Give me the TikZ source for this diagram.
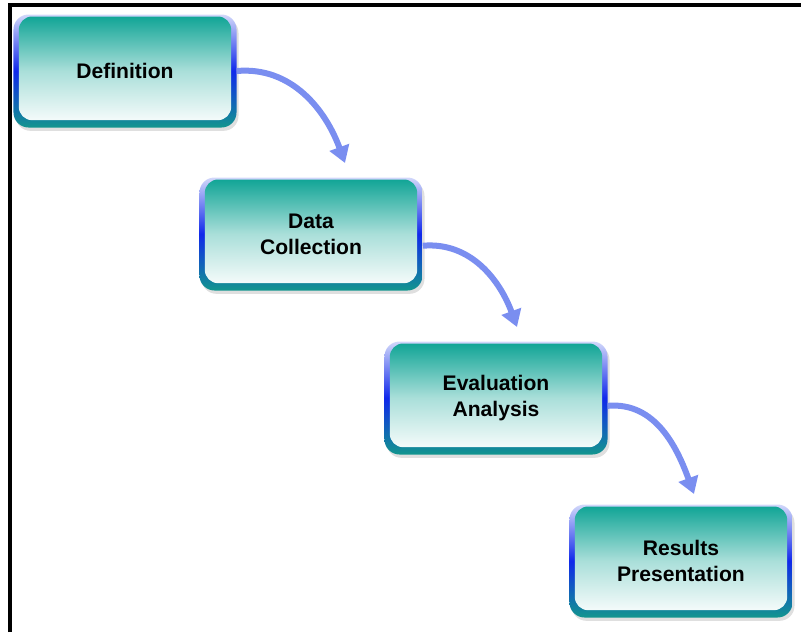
\documentclass[tikz,border=0pt]{standalone}
\usepackage{fontspec}
\setmainfont{Liberation Sans}
\usetikzlibrary{positioning,arrows.meta,shadows}
\definecolor{tealdark}{RGB}{18,150,142}
\definecolor{tealtop}{RGB}{12,163,148}
\definecolor{edgeblue}{RGB}{16,40,235}
\definecolor{edgelight}{RGB}{210,216,250}
\definecolor{flowblue}{RGB}{122,142,240}
\tikzset{
    stage/.style = {
        shape=rectangle,
        rounded corners=0.45cm,
        minimum width=6.69cm,
        minimum height=3.39cm,
        top color=edgelight,
        bottom color=tealdark,
        middle color=edgeblue,
        drop shadow={opacity=0.25, shadow xshift=0.06cm, shadow yshift=-0.1cm},
        path picture={
            \shade[top color=tealtop, bottom color=white, middle color=tealtop!35, rounded corners=0.4cm]
                ([shift={(0.16cm,-0.06cm)}]path picture bounding box.north west) rectangle
                ([shift={(-0.16cm,0.22cm)}]path picture bounding box.south east);
        },
        font=\fontsize{18}{22}\selectfont\bfseries,
        align=center,
        text=black
    },
    flow/.style = {
        draw=flowblue,
        line width=0.18cm,
        -{Triangle[width=0.6cm,length=0.5cm]}
    },
    frame/.style = {
        draw=black,
        line width=0.12cm
    },
}

\begin{document}
\begin{tikzpicture}[x=0.03cm, y=-0.03cm]
    \useasboundingbox (0,0) rectangle (801,632);
    \draw[frame] (10,632) -- (10,5) -- (801,5);

    \node[stage] (def) at (125,71) {Definition};
    \node[stage] (dat) at (311,234) {Data\\Collection};
    \node[stage] (eva) at (496,398) {Evaluation\\Analysis};
    \node[stage] (res) at (681,561) {Results\\Presentation};

    \coordinate (tip1) at (345,163);
    \coordinate (tip2) at (517,327);
    \coordinate (tip3) at (694,494);

    \path[flow] (def.east) to[out=5, in=110] (tip1);
    \path[flow] (dat.354) to[out=5, in=110] (tip2);
    \path[flow] (eva.356) to[out=5, in=110] (tip3);
\end{tikzpicture}
\end{document}
